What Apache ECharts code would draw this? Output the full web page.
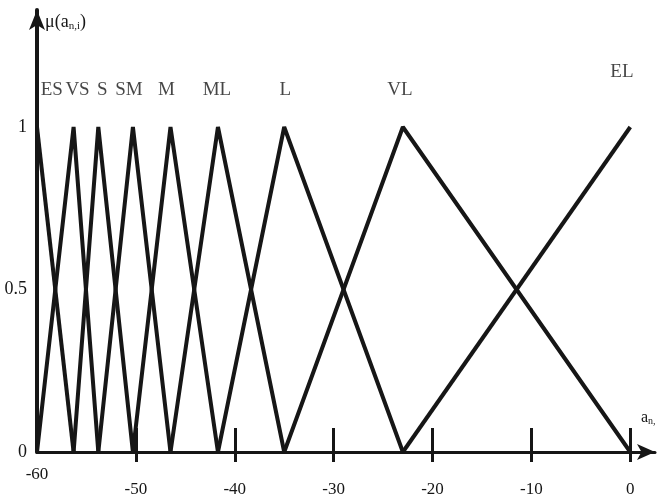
<!DOCTYPE html>
<html>
<head>
<meta charset="utf-8">
<script src="https://cdn.jsdelivr.net/npm/echarts@6/dist/echarts.min.js"></script>
<style>
  html, body { margin: 0; padding: 0; background: #fff; }
  #chart { width: 670px; height: 501px; }
</style>
</head>
<body>
<div id="chart"></div>
<script>
// fuzzy sets, breakpoints
var setNames = ['ES', 'VS', 'S', 'SM', 'M', 'ML', 'L', 'VL', 'EL'];
var setX = [
  [-60, -56.3],
  [-60, -56.3, -53.8],
  [-56.3, -53.8, -50.3],
  [-53.8, -50.3, -46.5],
  [-50.3, -46.5, -41.7],
  [-46.5, -41.7, -35.0],
  [-41.7, -35.0, -23.0],
  [-35.0, -23.0, 0],
  [-23.0, 0]
];
var setMu = [
  [1, 0],
  [0, 1, 0],
  [0, 1, 0],
  [0, 1, 0],
  [0, 1, 0],
  [0, 1, 0],
  [0, 1, 0],
  [0, 1, 0],
  [0, 1]
];
// where the set names sit
var labelX = [-58.5, -55.9, -53.4, -50.7, -46.9, -41.8, -34.9, -23.3, -0.85];
var labelY = [1.114, 1.114, 1.114, 1.114, 1.114, 1.114, 1.114, 1.114, 1.17];

var xTicks = [-50, -40, -30, -20, -10, 0];
var xFirst = [-60];
var muTicks = [0, 0.5, 1];

var serif = '"Liberation Serif", "DejaVu Serif", serif';
var ink = '#161616';

var chart = echarts.init(document.getElementById('chart'));

var series = [];
for (var i = 0; i < setNames.length; i++) {
  var pts = [];
  for (var j = 0; j < setX[i].length; j++) {
    pts.push([setX[i][j], setMu[i][j]]);
  }
  series.push({
    name: setNames[i],
    type: 'line',
    data: pts,
    showSymbol: false,
    symbol: 'none',
    lineStyle: { color: ink, width: 4, join: 'bevel' },
    silent: true,
    z: 3
  });
}

var labelPts = [];
for (var k = 0; k < setNames.length; k++) {
  labelPts.push({ value: [labelX[k], labelY[k]], name: setNames[k] });
}
series.push({
  type: 'scatter',
  data: labelPts,
  symbolSize: 0,
  silent: true,
  label: {
    show: true,
    position: 'inside',
    formatter: function (p) { return p.name; },
    color: ink,
    fontFamily: serif,
    fontSize: 19
  }
});

var option = {
  animation: false,
  backgroundColor: '#ffffff',
  grid: { left: 37, right: 15, top: 10, bottom: 49, containLabel: false },
  xAxis: [{
    type: 'value',
    min: -60,
    max: 2.5,
    name: '{a|a}{s|n,}',
    nameLocation: 'end',
    nameGap: -14,
    nameTextStyle: {
      align: 'left',
      verticalAlign: 'bottom',
      padding: [0, 0, 26, 0],
      rich: {
        a: { fontFamily: serif, fontSize: 16, color: ink },
        s: { fontFamily: serif, fontSize: 10, color: ink, padding: [6, 0, 0, 0] }
      }
    },
    axisLine: { show: true, onZero: false, symbol: ['none', 'arrow'], symbolSize: [12, 18], lineStyle: { color: ink, width: 3 } },
    axisTick: { show: true, inside: false, length: 10, customValues: xTicks, lineStyle: { color: ink, width: 3 } },
    axisLabel: {
      customValues: xTicks,
      margin: 29,
      color: ink,
      fontFamily: serif,
      fontSize: 17
    },
    splitLine: { show: false }
  }, {
    type: 'value',
    min: -60,
    max: 2.5,
    position: 'bottom',
    axisLine: { show: false, onZero: false },
    axisTick: { show: true, inside: true, length: 24, customValues: xTicks, lineStyle: { color: ink, width: 3 } },
    axisLabel: {
      customValues: xFirst,
      margin: 14,
      color: ink,
      fontFamily: serif,
      fontSize: 17
    },
    splitLine: { show: false }
  }],
  yAxis: {
    type: 'value',
    min: 0,
    max: 1.36,
    name: '{m|μ(a}{s|n,i}{m|)}',
    nameLocation: 'end',
    nameGap: -12,
    nameTextStyle: {
      align: 'left',
      verticalAlign: 'middle',
      padding: [0, 0, 0, 8],
      rich: {
        m: { fontFamily: serif, fontSize: 18, color: ink },
        s: { fontFamily: serif, fontSize: 11, color: ink, padding: [8, 0, 0, 0] }
      }
    },
    axisLine: { show: true, onZero: false, symbol: ['none', 'arrow'], symbolSize: [12, 20], lineStyle: { color: ink, width: 4 } },
    axisTick: { show: false },
    axisLabel: {
      customValues: muTicks,
      margin: 10,
      color: ink,
      fontFamily: serif,
      fontSize: 18
    },
    splitLine: { show: false }
  },
  series: series
};

chart.setOption(option);
</script>
</body>
</html>
